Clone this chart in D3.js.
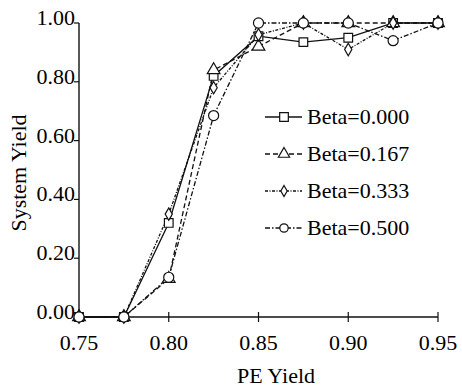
<!DOCTYPE html>
<html>
<head>
<meta charset="utf-8">
<script src="https://cdn.jsdelivr.net/npm/d3@7"></script>
<style>
  body { margin: 0; background: #fff; }
  text { font-family: "Liberation Serif", "Times New Roman", serif; fill: #000; }
</style>
</head>
<body>
<div id="chart"></div>
<script>
// PE yield on the x axis
const peYield = [0.75, 0.775, 0.80, 0.825, 0.85, 0.875, 0.90, 0.925, 0.95];

// system yield per beta
const beta000 = [0, 0, 0.32, 0.82, 0.955, 0.935, 0.95, 1.0, 1.0];
const beta167 = [0, 0, 0.13, 0.84, 0.92, 1.0, 1.0, 1.0, 1.0];
const beta333 = [0, 0, 0.35, 0.78, 0.96, 1.0, 0.91, 1.0, 1.0];
const beta500 = [0, 0, 0.135, 0.685, 1.0, 1.0, 1.0, 0.94, 1.0];

const seriesNames = ["Beta=0.000", "Beta=0.167", "Beta=0.333", "Beta=0.500"];
const xTicks = [0.75, 0.80, 0.85, 0.90, 0.95];
const yTicks = [0, 0.2, 0.4, 0.6, 0.8, 1.0];

const width = 462, height = 389;
const svg = d3.select("#chart").append("svg")
    .attr("width", width)
    .attr("height", height);

const x = d3.scaleLinear().domain([0.75, 0.95]).range([79, 438]);
const y = d3.scaleLinear().domain([0, 1]).range([317, 23]);

// line styles + marker types, one per series
const dashes = [null, "5,3", "3,1.5,1,1.5", "5,2,1.5,2"];
const symbols = [d3.symbolSquare, d3.symbolTriangle, d3.symbolDiamond, d3.symbolCircle];
const symSizes = [75, 70, 45, 80];
const legSizes = [75, 55, 35, 55];

const allSeries = [beta000, beta167, beta333, beta500];

// axes (drawn by hand to mimic the old plot style)
svg.append("line")
    .attr("x1", x(0.75)).attr("x2", x(0.95))
    .attr("y1", y(0)).attr("y2", y(0))
    .attr("stroke", "#111").attr("stroke-width", 1.4);
svg.append("line")
    .attr("x1", x(0.75)).attr("x2", x(0.75))
    .attr("y1", y(0)).attr("y2", y(1))
    .attr("stroke", "#111").attr("stroke-width", 1.4);

xTicks.forEach(t => {
    if (t > 0.75) {
        svg.append("line")
            .attr("x1", x(t)).attr("x2", x(t))
            .attr("y1", y(0) - 5).attr("y2", y(0) + 5)
            .attr("stroke", "#111").attr("stroke-width", 1.2);
    }
    svg.append("text")
        .attr("x", x(t)).attr("y", 350)
        .attr("text-anchor", "middle")
        .style("font-size", "22px")
        .text(t.toFixed(2));
});

yTicks.forEach(t => {
    svg.append("line")
        .attr("x1", x(0.75) - 5).attr("x2", x(0.75))
        .attr("y1", y(t)).attr("y2", y(t))
        .attr("stroke", "#111").attr("stroke-width", 1.2);
    svg.append("text")
        .attr("x", 75).attr("y", y(t) + 2)
        .attr("text-anchor", "end")
        .style("font-size", "22px")
        .text(t.toFixed(2));
});

// axis titles
svg.append("text")
    .attr("x", 276).attr("y", 383)
    .attr("text-anchor", "middle")
    .style("font-size", "22px")
    .text("PE Yield");

svg.append("text")
    .attr("transform", "translate(26,173) rotate(-90)")
    .attr("text-anchor", "middle")
    .style("font-size", "22px")
    .text("System Yield");

// series lines
const line = d3.line()
    .x((d, i) => x(peYield[i]))
    .y(d => y(d));

allSeries.forEach((vals, k) => {
    svg.append("path")
        .datum(vals)
        .attr("d", line)
        .attr("fill", "none")
        .attr("stroke", "#111")
        .attr("stroke-width", 1.3)
        .attr("stroke-dasharray", dashes[k]);
});

// markers
allSeries.forEach((vals, k) => {
    const sym = d3.symbol().type(symbols[k]).size(symSizes[k]);
    svg.selectAll(".m" + k)
        .data(vals)
        .enter()
        .append("path")
        .attr("class", "m" + k)
        .attr("d", sym)
        .attr("transform", (d, i) => `translate(${x(peYield[i])},${y(d)})`)
        .attr("fill", "#fff")
        .attr("stroke", "#111")
        .attr("stroke-width", 1.2);
});

// legend
const legend = svg.append("g");
seriesNames.forEach((name, k) => {
    const ly = 117 + k * 37;
    legend.append("line")
        .attr("x1", 265).attr("x2", 302)
        .attr("y1", ly).attr("y2", ly)
        .attr("stroke", "#111")
        .attr("stroke-width", 1.3)
        .attr("stroke-dasharray", dashes[k]);
    legend.append("path")
        .attr("d", d3.symbol().type(symbols[k]).size(legSizes[k]))
        .attr("transform", `translate(284,${ly})`)
        .attr("fill", "#fff")
        .attr("stroke", "#111")
        .attr("stroke-width", 1.2);
    legend.append("text")
        .attr("x", 307).attr("y", ly + 7)
        .style("font-size", "22px")
        .text(name);
});
</script>
</body>
</html>
